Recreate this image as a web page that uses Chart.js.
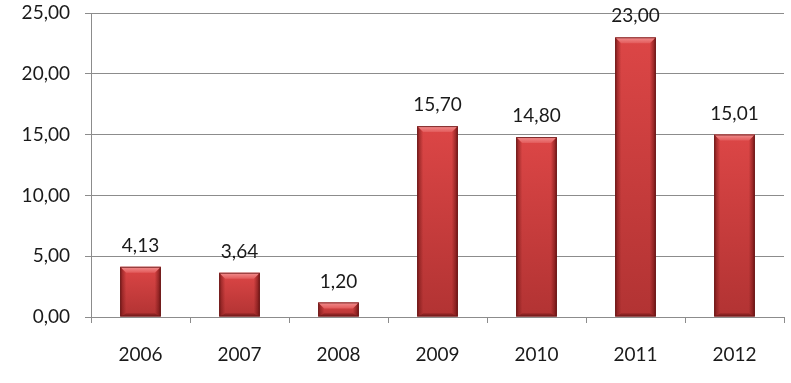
<!DOCTYPE html>
<html><head><meta charset="utf-8">
<script src="https://cdn.jsdelivr.net/npm/chart.js@4.4.1/dist/chart.umd.min.js"></script>
<style>html,body{margin:0;padding:0;background:#fff}#wrap{width:791px;height:383px}</style>
</head><body><div id="wrap"><canvas id="c" width="791" height="383"></canvas></div>
<script>
const categories = ['2006','2007','2008','2009','2010','2011','2012'];
const values = [4.13, 3.64, 1.20, 15.70, 14.80, 23.00, 15.01];
const yTicks = [0, 5, 10, 15, 20, 25];
const fmt = v => v.toFixed(2).replace('.', ',');
const FONT = 'Lato, "Open Sans", sans-serif';

const bevelPlugin = {
  id: 'bevel',
  afterDatasetsDraw(chart) {
    const ctx = chart.ctx;
    const meta = chart.getDatasetMeta(0);
    meta.data.forEach((el, i) => {
      const p = el.getProps(['x','y','base','width'], true);
      const l = p.x - p.width/2, r = p.x + p.width/2, t = p.y, b = p.base;
      const h = b - t, w = r - l;
      const bv = Math.min(6, h/2);
      ctx.save();
      let g = ctx.createLinearGradient(0, t, 0, b);
      g.addColorStop(0, '#DC4646'); g.addColorStop(1, '#B23333');
      ctx.fillStyle = g; ctx.fillRect(l, t, w, h);
      g = ctx.createLinearGradient(l, 0, l + 6, 0);
      g.addColorStop(0, 'rgba(110,20,20,0.75)'); g.addColorStop(1, 'rgba(110,20,20,0)');
      ctx.fillStyle = g;
      ctx.beginPath(); ctx.moveTo(l, t); ctx.lineTo(l+bv, t+bv); ctx.lineTo(l+bv, b-bv*0.5); ctx.lineTo(l, b); ctx.closePath(); ctx.fill();
      g = ctx.createLinearGradient(r, 0, r - 6, 0);
      g.addColorStop(0, 'rgba(100,15,15,0.8)'); g.addColorStop(1, 'rgba(100,15,15,0)');
      ctx.fillStyle = g;
      ctx.beginPath(); ctx.moveTo(r, t); ctx.lineTo(r-bv, t+bv); ctx.lineTo(r-bv, b-bv*0.5); ctx.lineTo(r, b); ctx.closePath(); ctx.fill();
      g = ctx.createLinearGradient(0, t, 0, t+bv);
      g.addColorStop(0, '#F29090'); g.addColorStop(1, '#E25A5A');
      ctx.fillStyle = g;
      ctx.beginPath(); ctx.moveTo(l, t); ctx.lineTo(r, t); ctx.lineTo(r-bv, t+bv); ctx.lineTo(l+bv, t+bv); ctx.closePath(); ctx.fill();
      ctx.fillStyle = 'rgba(90,15,15,0.45)';
      ctx.beginPath(); ctx.moveTo(l, b); ctx.lineTo(r, b); ctx.lineTo(r-bv, b-bv*0.5); ctx.lineTo(l+bv, b-bv*0.5); ctx.closePath(); ctx.fill();
      ctx.strokeStyle = 'rgba(100,20,20,0.8)'; ctx.lineWidth = 1;
      ctx.strokeRect(l+0.5, t+0.5, w-1, h-1);
      ctx.restore();
      ctx.save();
      ctx.fillStyle = '#1a1a1a';
      ctx.font = '19px ' + FONT;
      ctx.textAlign = 'center'; ctx.textBaseline = 'middle';
      ctx.fillText(fmt(values[i]), p.x, t - 21);
      ctx.restore();
    });
  }
};

new Chart(document.getElementById('c'), {
  type: 'bar',
  data: { labels: categories, datasets: [{ data: values, backgroundColor: 'rgba(0,0,0,0)', borderWidth: 0, categoryPercentage: 1, barPercentage: 0.41 }] },
  options: {
    responsive: false, animation: false, devicePixelRatio: 1,
    layout: { padding: { top: 13, right: 7, left: 0, bottom: 0 } },
    plugins: { legend: { display: false }, tooltip: { enabled: false } },
    scales: {
      x: {
        grid: { offset: true, drawOnChartArea: false, drawTicks: true, tickLength: 6, color: '#8c8c8c' },
        border: { color: '#8c8c8c' },
        ticks: { color: '#1a1a1a', font: { family: FONT, size: 19 }, padding: 20 },
        afterFit(a) { a.height = 66; a.paddingLeft = 0; a.paddingRight = 0; }
      },
      y: {
        min: 0, max: 25,
        afterBuildTicks(a) { a.ticks = yTicks.map(v => ({ value: v })); },
        grid: { color: '#8c8c8c', drawTicks: true, tickLength: 6 },
        border: { color: '#8c8c8c' },
        ticks: { color: '#1a1a1a', font: { family: FONT, size: 19 }, padding: 15, callback: v => fmt(v) },
        afterFit(a) { a.width = 91; a.paddingTop = 0; a.paddingBottom = 0; }
      }
    }
  },
  plugins: [bevelPlugin]
});
</script></body></html>
